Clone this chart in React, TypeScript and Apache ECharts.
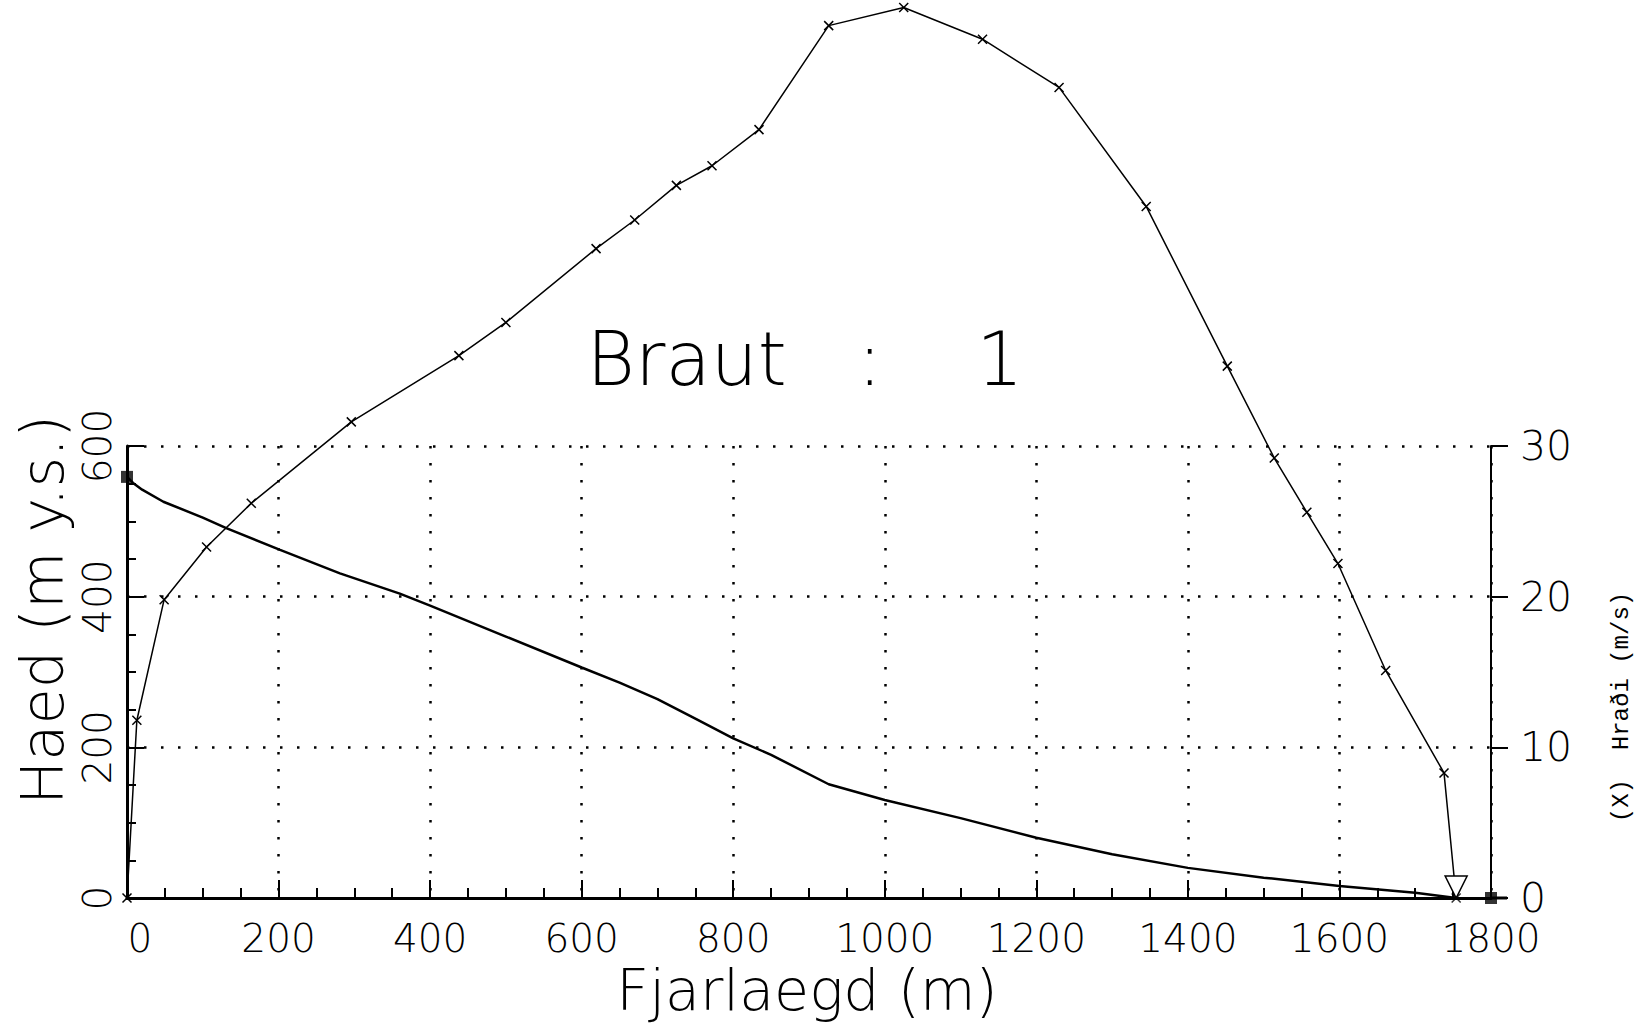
import React, { useEffect, useRef } from "react";
import * as echarts from "echarts";

// Speed (Hraði, m/s) vs distance (Fjarlaegd, m) — "x" markers
const speedDist = [0, 13, 49, 105, 164, 296, 438, 500, 619, 670, 725, 772, 834, 926, 1025, 1129, 1230, 1345, 1452, 1514, 1557, 1598, 1661, 1738];
const speedVal = [0, 11.8, 19.8, 23.3, 26.2, 31.6, 36.0, 38.2, 43.1, 45.0, 47.3, 48.6, 51.0, 57.9, 59.1, 57.0, 53.8, 45.9, 35.3, 29.2, 25.6, 22.2, 15.1, 8.3];
const speedStop = [1754, 0];

// Altitude (Haed, m y.s.) vs distance
const altDist = [0, 8, 20, 48, 100, 131, 202, 281, 360, 400, 500, 600, 650, 700, 750, 800, 850, 926, 1000, 1100, 1200, 1300, 1400, 1500, 1600, 1700, 1754];
const altVal = [559, 551, 542, 526, 505, 491, 462, 431, 404, 388, 347, 306, 286, 264, 238, 212, 190, 151, 130, 106, 80, 58, 40, 27, 16, 7, 0];

// Filled square end markers (start / end of path)
const squareMarks = [[0, 559], [1800, 0]];

const titleText = "Braut   :    1";
const xName = "Fjarlaegd (m)";
const yLeftName = "Haed (m y.s.)";
const yRightName = "(X)  Hraði (m/s)";

const FONT = "DejaVu Sans";
const CROSS = "path://M0 0L10 10M10 0L0 10";
const TRI = "path://M0 0L20 0L10 20Z";

export default function App() {
  const ref = useRef<HTMLDivElement>(null);
  useEffect(() => {
    if (!ref.current) return;
    const chart = echarts.init(ref.current, undefined, { renderer: "svg" });
    const dotted = { color: "#000", width: 2.5, type: [2.5, 14.5] as any };
    const speedData: any[] = speedDist.map((d, i) => [d, speedVal[i]]);
    speedData.push({
      value: speedStop,
      symbol: TRI,
      symbolSize: [22, 22],
      symbolOffset: [0, -11],
      itemStyle: { color: "#fff", borderColor: "#000", borderWidth: 1.5 },
    });
    chart.setOption({
      animation: false,
      backgroundColor: "#fff",
      grid: { left: 127, top: 446, width: 1364, height: 452, containLabel: false },
      xAxis: {
        type: "value",
        min: 0,
        max: 1800,
        interval: 200,
        axisLine: { show: true, onZero: false, lineStyle: { color: "#000", width: 3 } },
        axisTick: { show: true, inside: true, length: 18, lineStyle: { color: "#000", width: 2 } },
        minorTick: { show: true, splitNumber: 4, length: 10, lineStyle: { color: "#000", width: 2 } },
        axisLabel: {
          color: "#000",
          fontSize: 39,
          fontFamily: FONT,
          fontWeight: 200,
          margin: 21,
          formatter: (v: number) => (v === 0 ? "{z|0}" : String(v)),
          rich: { z: { fontSize: 39, fontFamily: FONT, fontWeight: 200, color: "#000", padding: [0, 0, 0, 26] } },
        },
        splitLine: { show: true, lineStyle: dotted },
      },
      yAxis: [
        {
          type: "value",
          position: "left",
          min: 0,
          max: 600,
          interval: 200,
          axisLine: { show: true, onZero: false, lineStyle: { color: "#000", width: 3 } },
          axisTick: { show: true, inside: true, length: 17, lineStyle: { color: "#000", width: 2 } },
          minorTick: { show: true, splitNumber: 4, length: 9, lineStyle: { color: "#000", width: 2 } },
          axisLabel: { color: "#000", fontSize: 39, fontFamily: FONT, fontWeight: 200, rotate: 90, margin: 10 },
          splitLine: { show: true, lineStyle: dotted },
        },
        {
          type: "value",
          position: "right",
          min: 0,
          max: 30,
          interval: 10,
          axisLine: { show: true, onZero: false, lineStyle: { color: "#000", width: 2 } },
          axisTick: { show: true, inside: false, length: 17, lineStyle: { color: "#000", width: 2 } },
          axisLabel: { color: "#000", fontSize: 41, fontFamily: FONT, fontWeight: 200, margin: 29 },
          splitLine: { show: false },
        },
      ],
      graphic: [
        {
          type: "text",
          x: 805,
          y: 359,
          style: {
            text: titleText,
            fill: "#000",
            font: `200 74px "${FONT}"`,
            align: "center",
            verticalAlign: "middle",
          },
        },
        {
          type: "text",
          x: 807,
          y: 990,
          style: {
            text: xName,
            fill: "#000",
            font: `200 57px "${FONT}"`,
            align: "center",
            verticalAlign: "middle",
          },
        },
        {
          type: "text",
          x: 42,
          y: 610,
          rotation: Math.PI / 2,
          style: {
            text: yLeftName,
            fill: "#000",
            font: `200 59px "${FONT}"`,
            align: "center",
            verticalAlign: "middle",
          },
        },
        {
          type: "text",
          x: 1621,
          y: 707,
          rotation: Math.PI / 2,
          style: {
            text: yRightName,
            fill: "#000",
            font: `24px "Liberation Mono"`,
            align: "center",
            verticalAlign: "middle",
          },
        },
        {
          type: "line",
          shape: { x1: 1491, y1: 898, x2: 1507, y2: 898 },
          style: { stroke: "#000", lineWidth: 3 },
        },
      ],
      series: [
        {
          name: "Haed",
          type: "line",
          yAxisIndex: 0,
          data: altDist.map((d, i) => [d, altVal[i]]),
          symbol: "none",
          lineStyle: { color: "#000", width: 2.5 },
          clip: false,
          z: 3,
        },
        {
          name: "Hraði",
          type: "line",
          yAxisIndex: 1,
          data: speedData,
          symbol: CROSS,
          symbolSize: 9,
          showAllSymbol: true,
          itemStyle: { color: "#000", borderColor: "#000", borderWidth: 1.5 },
          lineStyle: { color: "#000", width: 1.5 },
          clip: false,
          z: 4,
        },
        {
          name: "stop",
          type: "scatter",
          yAxisIndex: 1,
          data: [speedStop],
          symbol: CROSS,
          symbolSize: 9,
          itemStyle: { color: "#000", borderColor: "#000", borderWidth: 1.5 },
          clip: false,
          z: 5,
        },
        {
          name: "ends",
          type: "scatter",
          yAxisIndex: 0,
          data: squareMarks,
          symbol: "rect",
          symbolSize: 12,
          itemStyle: { color: "#000" },
          clip: false,
          z: 6,
        },
      ],
    });
    return () => chart.dispose();
  }, []);
  return (
    <div
      ref={ref}
      style={{ position: "fixed", left: 0, top: 0, width: 1635, height: 1025, background: "#fff" }}
    />
  );
}
